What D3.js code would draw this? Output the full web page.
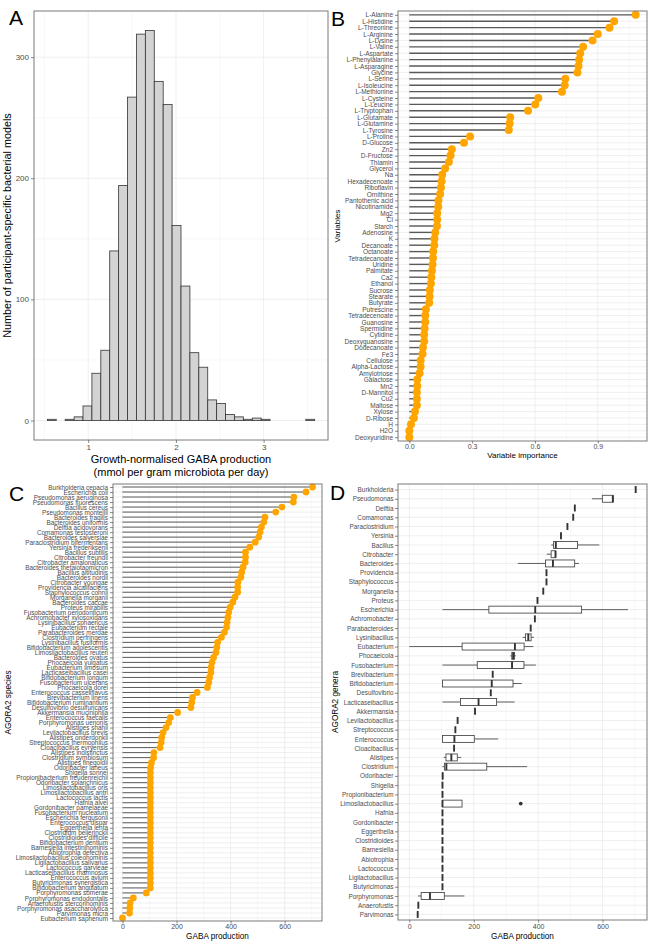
<!DOCTYPE html>
<html>
<head>
<meta charset="utf-8">
<script src="https://cdn.jsdelivr.net/npm/d3@7"></script>
<style>
  body { margin: 0; background: #fff; }
  svg { display: block; font-family: "Liberation Sans", Arial, Helvetica, sans-serif; }
</style>
</head>
<body>
<svg id="fig" width="654" height="945"></svg>
<script>
// ---- A: histogram of growth-normalised GABA production ----
const binStart = 0.534;
const binWidth = 0.1016;
const binCounts = [1, 0, 1, 3, 12, 39, 58, 140, 194, 267, 319, 322, 280, 261, 161,
  111, 56, 44, 17, 14, 5, 3, 1, 2, 1, 0, 0, 0, 0, 1];
const histXTicks = [1, 2, 3];
const histYTicks = [0, 100, 200, 300];

// ---- B: variable importance ----
const variables = ['L-Alanine', 'L-Histidine', 'L-Threonine', 'L-Arginine', 'L-Lysine', 'L-Valine',
  'L-Aspartate', 'L-Phenylalanine', 'L-Asparagine', 'Glycine', 'L-Serine', 'L-Isoleucine',
  'L-Methionine', 'L-Cysteine', 'L-Leucine', 'L-Tryptophan', 'L-Glutamate', 'L-Glutamine',
  'L-Tyrosine', 'L-Proline', 'D-Glucose', 'Zn2', 'D-Fructose', 'Thiamin', 'Glycerol', 'Na',
  'Hexadecenoate', 'Riboflavin', 'Ornithine', 'Pantothenic acid', 'Nicotinamide', 'Mg2', 'Cl',
  'Starch', 'Adenosine', 'K', 'Decanoate', 'Octanoate', 'Tetradecanoate', 'Uridine', 'Palmitate',
  'Ca2', 'Ethanol', 'Sucrose', 'Stearate', 'Butyrate', 'Putrescine', 'Tetradecenoate', 'Guanosine',
  'Spermidine', 'Cytidine', 'Deoxyguanosine', 'Dodecanoate', 'Fe3', 'Cellulose', 'Alpha-Lactose',
  'Amylotriose', 'Galactose', 'Mn2', 'D-Mannitol', 'Cu2', 'Maltose', 'Xylose', 'D-Ribose', 'H',
  'H2O', 'Deoxyuridine'];
const importance = [1.081, 0.978, 0.956, 0.900, 0.875, 0.830, 0.816, 0.811, 0.808, 0.803, 0.745,
  0.742, 0.729, 0.616, 0.601, 0.567, 0.482, 0.479, 0.475, 0.290, 0.261, 0.203, 0.197, 0.189, 0.171,
  0.157, 0.154, 0.151, 0.147, 0.139, 0.138, 0.133, 0.133, 0.132, 0.124, 0.120, 0.119, 0.114, 0.113,
  0.111, 0.108, 0.105, 0.103, 0.098, 0.097, 0.095, 0.079, 0.076, 0.076, 0.073, 0.071, 0.071, 0.065,
  0.063, 0.054, 0.054, 0.049, 0.038, 0.038, 0.036, 0.036, 0.036, 0.027, 0.022, 0.008, 0.0, 0.0];
const importanceTicks = [0, 0.3, 0.6, 0.9];

// ---- C: GABA production per species ----
const species = ['Burkholderia cepacia', 'Escherichia coli', 'Pseudomonas aeruginosa',
  'Pseudomonas fluorescens', 'Bacillus cereus', 'Pseudomonas monteilii', 'Bacteroides fragilis',
  'Bacteroides uniformis', 'Delftia acidovorans', 'Comamonas testosteroni', 'Bacteroides salyersiae',
  'Paraclostridium bifermentans', 'Yersinia frederiksenii', 'Bacillus subtilis', 'Citrobacter freundii',
  'Citrobacter amalonaticus', 'Bacteroides thetaiotaomicron', 'Bacillus altitudinis', 'Bacteroides nordii',
  'Citrobacter youngae', 'Providencia alcalifaciens', 'Staphylococcus cohnii', 'Morganella morganii',
  'Bacteroides caccae', 'Proteus mirabilis', 'Fusobacterium periodonticum', 'Achromobacter xylosoxidans',
  'Lysinibacillus sphaericus', 'Eubacterium rectale', 'Parabacteroides merdae', 'Clostridium perfringens',
  'Lysinibacillus fusiformis', 'Bifidobacterium adolescentis', 'Limosilactobacillus reuteri',
  'Bacteroides ovatus', 'Phocaeicola vulgatus', 'Eubacterium limosum', 'Lacticaseibacillus casei',
  'Bifidobacterium longum', 'Fusobacterium ulcerans', 'Phocaeicola dorei', 'Enterococcus casseliflavus',
  'Brevibacterium linens', 'Bifidobacterium ruminantium', 'Desulfovibrio desulfuricans',
  'Akkermansia muciniphila', 'Enterococcus faecalis', 'Porphyromonas uenonis', 'Alistipes shahii',
  'Levilactobacillus brevis', 'Alistipes onderdonkii', 'Streptococcus thermophilus',
  'Cloacibacillus evryensis', 'Alistipes indistinctus', 'Clostridium symbiosum', 'Alistipes finegoldii',
  'Odoribacter laneus', 'Shigella sonnei', 'Propionibacterium freudenreichii', 'Odoribacter splanchnicus',
  'Limosilactobacillus oris', 'Limosilactobacillus antri', 'Lactococcus lactis', 'Hafnia alvei',
  'Gordonibacter pamelaeae', 'Fusobacterium nucleatum', 'Escherichia fergusonii', 'Enterococcus dispar',
  'Eggerthella lenta', 'Clostridium beijerinckii', 'Clostridioides difficile', 'Bifidobacterium dentium',
  'Barnesiella intestinihominis', 'Abiotrophia defectiva', 'Limosilactobacillus coleohominis',
  'Ligilactobacillus salivarius', 'Lactococcus garvieae', 'Lacticaseibacillus rhamnosus',
  'Enterococcus avium', 'Butyricimonas synergistica', 'Bifidobacterium angulatum',
  'Porphyromonas somerae', 'Porphyromonas endodontalis', 'Anaerofustis stercorihominis',
  'Porphyromonas asaccharolytica', 'Parvimonas micra', 'Eubacterium saphenum'];
const gaba = [703, 679, 634, 632, 590, 567, 527, 523, 514, 509,
  504, 491, 471, 455, 455, 454, 446, 441, 438, 427,
  426, 426, 416, 408, 398, 393, 390, 387, 385, 377,
  366, 352, 349, 346, 337, 331, 328, 327, 322, 319,
  314, 276, 259, 256, 253, 204, 177, 171, 161, 150,
  145, 143, 139, 116, 115, 107, 104, 103, 103, 103,
  103, 103, 103, 103, 103, 103, 103, 103, 103, 103,
  103, 103, 103, 103, 103, 103, 103, 103, 103, 103,
  103, 88, 40, 28, 27, 26, 0];
const gabaTicks = [0, 200, 400, 600];

// ---- D: genera (boxes computed from the species values above) ----
const genera = ['Burkholderia', 'Pseudomonas', 'Delftia', 'Comamonas', 'Paraclostridium', 'Yersinia',
  'Bacillus', 'Citrobacter', 'Bacteroides', 'Providencia', 'Staphylococcus', 'Morganella', 'Proteus',
  'Escherichia', 'Achromobacter', 'Parabacteroides', 'Lysinibacillus', 'Eubacterium', 'Phocaeicola',
  'Fusobacterium', 'Brevibacterium', 'Bifidobacterium', 'Desulfovibrio', 'Lacticaseibacillus',
  'Akkermansia', 'Levilactobacillus', 'Streptococcus', 'Enterococcus', 'Cloacibacillus', 'Alistipes',
  'Clostridium', 'Odoribacter', 'Shigella', 'Propionibacterium', 'Limosilactobacillus', 'Hafnia',
  'Gordonibacter', 'Eggerthella', 'Clostridioides', 'Barnesiella', 'Abiotrophia', 'Lactococcus',
  'Ligilactobacillus', 'Butyricimonas', 'Porphyromonas', 'Anaerofustis', 'Parvimonas'];

const GRID = '#ebebeb';
const GRID_MINOR = '#f4f4f4';
const BORDER = '#7a7a7a';
const TICK = '#555';
const LABEL = '#4d4d4d';
const ORANGE = '#FFA500';

const svg = d3.select('#fig');

// minor breaks halfway between majors, ggplot style
function minorOf(scale, majors) {
  const step = majors[1] - majors[0];
  const [d0, d1] = scale.domain();
  const out = [];
  for (let v = majors[0] - step / 2; v <= d1; v += step) {
    if (v >= d0) out.push(v);
  }
  return out;
}

function panelGrid(g, box, x, xMajor, yMajorPx, yMinorPx) {
  g.append('rect')
    .attr('x', box.l).attr('y', box.t)
    .attr('width', box.r - box.l).attr('height', box.b - box.t)
    .attr('fill', '#fff');
  g.selectAll(null).data(minorOf(x, xMajor)).join('line')
    .attr('x1', d => x(d)).attr('x2', d => x(d))
    .attr('y1', box.t).attr('y2', box.b)
    .attr('stroke', GRID_MINOR).attr('stroke-width', 0.6);
  g.selectAll(null).data(yMinorPx || []).join('line')
    .attr('x1', box.l).attr('x2', box.r)
    .attr('y1', d => d).attr('y2', d => d)
    .attr('stroke', GRID_MINOR).attr('stroke-width', 0.6);
  g.selectAll(null).data(xMajor).join('line')
    .attr('x1', d => x(d)).attr('x2', d => x(d))
    .attr('y1', box.t).attr('y2', box.b)
    .attr('stroke', GRID).attr('stroke-width', 0.8);
  g.selectAll(null).data(yMajorPx).join('line')
    .attr('x1', box.l).attr('x2', box.r)
    .attr('y1', d => d).attr('y2', d => d)
    .attr('stroke', GRID).attr('stroke-width', 0.8);
}

function border(g, box) {
  g.append('rect')
    .attr('x', box.l).attr('y', box.t)
    .attr('width', box.r - box.l).attr('height', box.b - box.t)
    .attr('fill', 'none').attr('stroke', BORDER).attr('stroke-width', 1);
}

function axis(g, gen, tx, ty, size) {
  const a = g.append('g').attr('transform', `translate(${tx},${ty})`).call(gen);
  a.attr('font-family', null).attr('font-size', null);
  a.select('.domain').remove();
  a.selectAll('.tick line').attr('stroke', TICK).attr('stroke-width', 0.7);
  a.selectAll('.tick text').attr('fill', LABEL).style('font-size', size + 'px');
  return a;
}

function text(g, x, y, str, size, opts = {}) {
  const t = g.append('text')
    .attr('x', x).attr('y', y)
    .attr('font-size', size)
    .attr('fill', opts.fill || '#000')
    .attr('text-anchor', opts.anchor || 'middle')
    .text(str);
  if (opts.rotate) t.attr('transform', `rotate(-90,${x},${y})`);
  return t;
}

function tag(x, y, letter) {
  text(svg, x, y, letter, 21, {anchor: 'start'});
}

// ================= A =================
(function drawA() {
  const box = {l: 34, r: 328, t: 11, b: 440};
  const g = svg.append('g');
  const x0 = binStart;
  const x1 = binStart + binCounts.length * binWidth;
  const px = (x1 - x0) * 0.05;
  const x = d3.scaleLinear().domain([x0 - px, x1 + px]).range([box.l, box.r]);
  const maxC = d3.max(binCounts);
  const y = d3.scaleLinear().domain([-maxC * 0.05, maxC * 1.05]).range([box.b, box.t]);

  panelGrid(g, box, x, histXTicks, histYTicks.map(y), minorOf(y, histYTicks).map(y));

  const bins = binCounts.map((c, i) => ({x0: binStart + i * binWidth, c}));
  g.selectAll('rect.bar').data(bins.filter(d => d.c > 0)).join('rect')
    .attr('class', 'bar')
    .attr('x', d => x(d.x0))
    .attr('width', d => x(d.x0 + binWidth) - x(d.x0))
    .attr('y', d => y(d.c))
    .attr('height', d => Math.max(0.8, y(0) - y(d.c)))
    .attr('fill', '#d3d3d3')
    .attr('stroke', '#333')
    .attr('stroke-width', 0.8);

  border(g, box);
  axis(g, d3.axisLeft(y).tickValues(histYTicks).tickFormat(d3.format('d')).tickSize(3).tickPadding(2),
    box.l, 0, 8);
  axis(g, d3.axisBottom(x).tickValues(histXTicks).tickFormat(d3.format('d')).tickSize(3).tickPadding(1.5),
    0, box.b, 8);

  const cx = (box.l + box.r) / 2;
  text(g, cx, 462.5, 'Growth-normalised GABA production', 11);
  text(g, cx, 475.5, '(mmol per gram microbiota per day)', 11);
  text(g, 11, (box.t + box.b) / 2, 'Number of participant-specific bacterial models', 10.8, {rotate: true});
  tag(9, 25, 'A');
})();

// ================= lollipop panels (B, C) =================
function lollipop(box, cats, vals, ticks, opt) {
  const g = svg.append('g');
  const y = d3.scalePoint().domain(cats).range([box.t, box.b]).padding(0.6);
  const hi = d3.max(vals);
  const lo = Math.min(0, d3.min(vals));
  const pad = (hi - lo) * 0.05;
  const x = d3.scaleLinear().domain([lo - pad, hi + pad]).range([box.l, box.r]);

  panelGrid(g, box, x, ticks, cats.map(y));

  const rows = cats.map((c, i) => ({c, v: vals[i]}));
  g.selectAll('line.stem').data(rows).join('line')
    .attr('class', 'stem')
    .attr('x1', x(0)).attr('x2', d => x(d.v))
    .attr('y1', d => y(d.c)).attr('y2', d => y(d.c))
    .attr('stroke', '#5a5a5a').attr('stroke-width', opt.stem);
  g.selectAll('circle.pt').data(rows).join('circle')
    .attr('class', 'pt')
    .attr('cx', d => x(d.v)).attr('cy', d => y(d.c))
    .attr('r', opt.r)
    .attr('fill', ORANGE);

  border(g, box);
  axis(g, d3.axisLeft(y).tickSize(3).tickPadding(opt.yPad), box.l, 0, opt.ySize);
  axis(g, d3.axisBottom(x).tickValues(ticks).tickFormat(opt.fmt).tickSize(2.5).tickPadding(1),
    0, box.b, 7);
  return g;
}

// ================= B =================
(function drawB() {
  const box = {l: 398, r: 647, t: 11, b: 441};
  const g = lollipop(box, variables, importance, importanceTicks,
    {r: 4, stem: 1.4, ySize: 6.5, yPad: 2, fmt: d3.format('.1f')});
  text(g, (box.l + box.r) / 2, 457.5, 'Variable importance', 8);
  text(g, 339.5, (box.t + box.b) / 2, 'Variables', 8, {rotate: true});
  tag(331, 26, 'B');
})();

// ================= C =================
(function drawC() {
  const box = {l: 113, r: 322, t: 484, b: 921};
  const g = lollipop(box, species, gaba, gabaTicks,
    {r: 3.4, stem: 1, ySize: 6.4, yPad: 2, fmt: d3.format('d')});
  text(g, (box.l + box.r) / 2, 938.5, 'GABA production', 8.2);
  text(g, 10.5, (box.t + box.b) / 2, 'AGORA2 species', 8.2, {rotate: true});
  tag(9, 501, 'C');
})();

// ================= D =================
(function drawD() {
  const box = {l: 398, r: 647, t: 484, b: 920};
  const g = svg.append('g');
  const y = d3.scalePoint().domain(genera).range([box.t, box.b]).padding(0.6);
  const hi = d3.max(gaba);
  const lo = Math.min(0, d3.min(gaba));
  const pad = (hi - lo) * 0.05;
  const x = d3.scaleLinear().domain([lo - pad, hi + pad]).range([box.l, box.r]);

  panelGrid(g, box, x, gabaTicks, genera.map(y));

  const byGenus = d3.group(species.map((s, i) => ({g: s.split(' ')[0], v: gaba[i]})), d => d.g);
  const stats = genera.map(name => {
    const v = byGenus.get(name).map(d => d.v).sort(d3.ascending);
    const q1 = d3.quantileSorted(v, 0.25);
    const med = d3.quantileSorted(v, 0.5);
    const q3 = d3.quantileSorted(v, 0.75);
    const iqr = q3 - q1;
    const inside = v.filter(d => d >= q1 - 1.5 * iqr && d <= q3 + 1.5 * iqr);
    return {
      name, q1, med, q3,
      lo: d3.min(inside), hi: d3.max(inside),
      out: v.filter(d => d < q1 - 1.5 * iqr || d > q3 + 1.5 * iqr)
    };
  });

  const h = y.step() * 0.75;
  const bx = g.selectAll('g.box').data(stats).join('g').attr('class', 'box');
  bx.append('line')
    .attr('x1', d => x(d.lo)).attr('x2', d => x(d.q1))
    .attr('y1', d => y(d.name)).attr('y2', d => y(d.name))
    .attr('stroke', '#4d4d4d').attr('stroke-width', 0.9);
  bx.append('line')
    .attr('x1', d => x(d.q3)).attr('x2', d => x(d.hi))
    .attr('y1', d => y(d.name)).attr('y2', d => y(d.name))
    .attr('stroke', '#4d4d4d').attr('stroke-width', 0.9);
  bx.append('rect')
    .attr('x', d => x(d.q1)).attr('width', d => x(d.q3) - x(d.q1))
    .attr('y', d => y(d.name) - h / 2).attr('height', h)
    .attr('fill', '#fff').attr('stroke', '#4d4d4d').attr('stroke-width', 0.9);
  bx.append('line')
    .attr('x1', d => x(d.med)).attr('x2', d => x(d.med))
    .attr('y1', d => y(d.name) - h / 2).attr('y2', d => y(d.name) + h / 2)
    .attr('stroke', '#333').attr('stroke-width', 1.9);
  bx.selectAll('circle').data(d => d.out.map(v => ({v, name: d.name}))).join('circle')
    .attr('cx', d => x(d.v)).attr('cy', d => y(d.name))
    .attr('r', 1.9).attr('fill', '#333');

  border(g, box);
  axis(g, d3.axisLeft(y).tickSize(3).tickPadding(1.5), box.l, 0, 6.4);
  axis(g, d3.axisBottom(x).tickValues(gabaTicks).tickFormat(d3.format('d')).tickSize(2.5).tickPadding(2),
    0, box.b, 7);
  text(g, (box.l + box.r) / 2, 938.5, 'GABA production', 8.2);
  text(g, 337.5, (box.t + box.b) / 2, 'AGORA2 genera', 8.2, {rotate: true});
  tag(330, 500, 'D');
})();
</script>
</body>
</html>
